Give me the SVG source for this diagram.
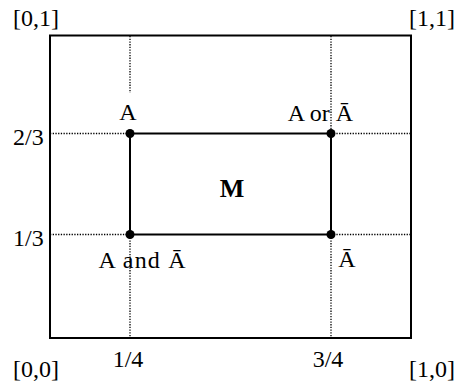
<svg xmlns="http://www.w3.org/2000/svg" width="457" height="384" viewBox="0 0 457 384">
<style>
.solid{fill:none;stroke:#000;stroke-width:2}
.dot{fill:none;stroke:#000;stroke-width:1.3;stroke-dasharray:1.3 1.4}
.pt{fill:#000}
text{font-family:"Liberation Serif","Times New Roman",serif;font-size:24px;fill:#000}
.b{font-weight:bold;font-size:26px}
</style>
<rect width="457" height="384" fill="#fff"/>
<g id="connectors">
<line class="dot" x1="130" y1="36" x2="130" y2="93"/>
<line class="dot" x1="130" y1="235" x2="130" y2="338"/>
<line class="dot" x1="331" y1="36" x2="331" y2="133"/>
<line class="dot" x1="331" y1="235" x2="331" y2="338"/>
<line class="dot" x1="50" y1="133.5" x2="130" y2="133.5"/>
<line class="dot" x1="331" y1="133.5" x2="411" y2="133.5"/>
<line class="dot" x1="50" y1="234.5" x2="130" y2="234.5"/>
<line class="dot" x1="331" y1="234.5" x2="411" y2="234.5"/>
</g>
<g id="frame">
<rect class="solid" x="50" y="35.5" width="361" height="302.5"/>
</g>
<g id="M">
<rect class="solid" x="130" y="133.5" width="201" height="101"/>
<text class="b" x="232" y="197" text-anchor="middle">M</text>
</g>
<g id="A">
<circle class="pt" cx="130" cy="133.5" r="4.5"/>
<text x="128" y="120" text-anchor="middle">A</text>
</g>
<g id="AorAbar">
<circle class="pt" cx="331" cy="133.5" r="4.5"/>
<text x="320.5" y="121" text-anchor="middle">A or Ā</text>
</g>
<g id="AandAbar">
<circle class="pt" cx="130" cy="234.5" r="4.5"/>
<text x="142" y="268" text-anchor="middle" textLength="87">A and Ā</text>
</g>
<g id="Abar">
<circle class="pt" cx="331" cy="234.5" r="4.5"/>
<text x="347" y="267" text-anchor="middle">Ā</text>
</g>
<g id="labels">
<text x="13" y="26">[0,1]</text>
<text x="455" y="26" text-anchor="end">[1,1]</text>
<text x="13" y="377">[0,0]</text>
<text x="455" y="377" text-anchor="end">[1,0]</text>
<text x="13" y="145">2/3</text>
<text x="13" y="246">1/3</text>
<text x="128" y="367" text-anchor="middle">1/4</text>
<text x="328" y="367" text-anchor="middle">3/4</text>
</g>
</svg>
